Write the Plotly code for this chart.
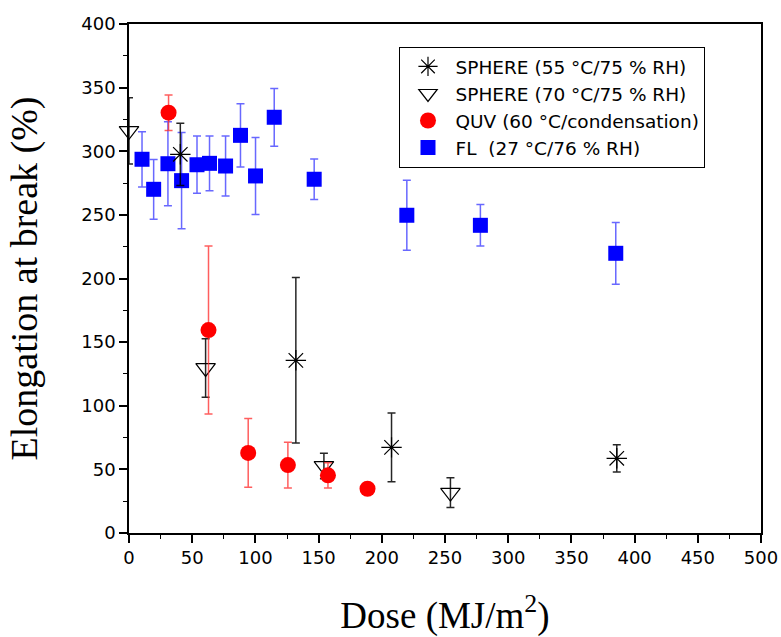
import plotly.graph_objects as go

# SPHERE (55 °C/75 % RH)
s55_dose = [40.6, 132.0, 207.7, 385.9]
s55_elong = [297.6, 135.7, 67.3, 58.7]
s55_err = [24.5, 65, 27, 10.7]

# SPHERE (70 °C/75 % RH)
s70_dose = [0, 60.6, 154.2, 254.3]
s70_elong = [316, 129.7, 52.7, 31.8]
s70_err = [26, 23, 10, 11.7]

# QUV (60 °C/condensation)
quv_dose = [31.3, 62.9, 94.3, 125.7, 157.4, 188.7]
quv_elong = [330.3, 159.5, 62.9, 53.4, 45.3, 34.8]
quv_err = [14, 66, 27, 18, 10, 3]

# FL (27 °C/76 % RH)
fl_dose = [10.3, 19.5, 30.8, 41.6, 53.8, 63.7, 76.4, 88.2, 100.1, 114.9, 146.5, 219.8, 278.0, 385.1]
fl_elong = [293.7, 270.1, 290.2, 276.9, 289.4, 290.5, 288.4, 312.5, 280.6, 326.7, 278.0, 249.7, 241.8, 219.8]
fl_err = [21.7, 23.5, 33, 37.8, 22.5, 21.5, 23.6, 24.8, 30.3, 22.7, 16, 27.5, 16.3, 24.3]

fig = go.Figure()

fig.add_trace(go.Scatter(
    x=fl_dose, y=fl_elong, mode="markers", name="FL  (27 °C/76 % RH)", legendrank=4,
    marker=dict(symbol="square", size=15, color="#0000ff"), cliponaxis=False,
    error_y=dict(type="data", array=fl_err, color="rgba(40,40,255,0.7)", thickness=1.5, width=4),
))
fig.add_trace(go.Scatter(
    x=s70_dose, y=s70_elong, mode="markers", name="SPHERE (70 °C/75 % RH)", legendrank=2,
    marker=dict(symbol="triangle-down-open", size=17, color="black", line=dict(width=1.2)), cliponaxis=False,
    error_y=dict(type="data", array=s70_err, color="rgba(0,0,0,0.85)", thickness=1.5, width=4),
))
fig.add_trace(go.Scatter(
    x=quv_dose, y=quv_elong, mode="markers", name="QUV (60 °C/condensation)", legendrank=3,
    marker=dict(symbol="circle", size=16, color="#ff0000"), cliponaxis=False,
    error_y=dict(type="data", array=quv_err, color="rgba(255,40,40,0.75)", thickness=1.5, width=4),
))
fig.add_trace(go.Scatter(
    x=s55_dose, y=s55_elong, mode="markers", name="SPHERE (55 °C/75 % RH)", legendrank=1,
    marker=dict(symbol="asterisk-open", size=17, color="black", line=dict(width=1.2, color="black")),
    cliponaxis=False,
    error_y=dict(type="data", array=s55_err, color="rgba(0,0,0,0.85)", thickness=1.5, width=4),
))

axis_common = dict(
    showgrid=False, zeroline=False, showline=True, linecolor="black", linewidth=1.5,
    mirror=True, ticks="outside", ticklen=8, tickwidth=1.5, tickcolor="black",
    tickfont=dict(family="DejaVu Sans", size=18, color="black"), automargin=False,
)

fig.update_xaxes(
    range=[0, 500], dtick=50, tick0=0,
    minor=dict(dtick=25, ticks="outside", ticklen=4, tickwidth=1.2, tickcolor="black"),
    title=dict(text="Dose (MJ/m<sup>2</sup>)", font=dict(family="Liberation Serif", size=37, color="black"), standoff=39),
    **axis_common,
)
fig.update_yaxes(
    range=[0, 400], dtick=50, tick0=0,
    minor=dict(dtick=25, ticks="outside", ticklen=4, tickwidth=1.2, tickcolor="black"),
    title=dict(text="Elongation at break (%)", font=dict(family="Liberation Serif", size=38, color="black"), standoff=32),
    **axis_common,
)

fig.update_layout(
    width=781, height=637,
    margin=dict(l=129, r=20, t=24, b=104),
    plot_bgcolor="white", paper_bgcolor="white",
    showlegend=True,
    legend=dict(
        x=0.428, y=0.955, xanchor="left", yanchor="top",
        bordercolor="black", borderwidth=1, bgcolor="white",
        font=dict(family="DejaVu Sans", size=18.5, color="black"),
        itemwidth=45,
    ),
)

# drop the browser's default body margin so the figure fills the window
fig.write_html(
    "out.html",
    config={"displayModeBar": False},
    post_script="document.body.style.margin='0';document.body.style.overflow='hidden';",
)
